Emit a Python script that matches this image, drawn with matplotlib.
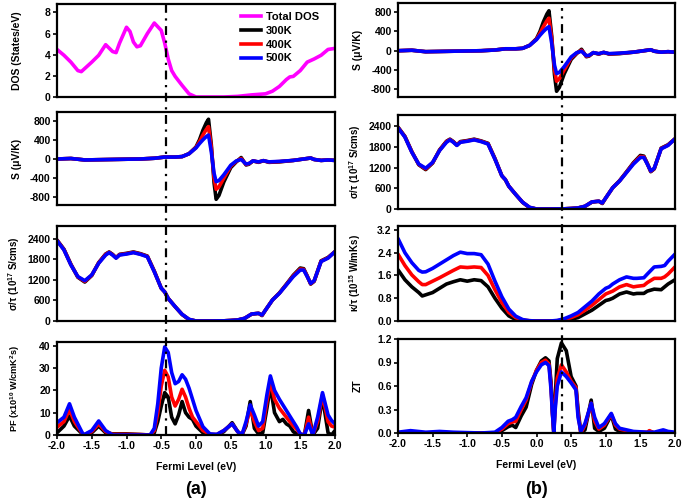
import matplotlib
matplotlib.use('Agg')
import matplotlib.pyplot as plt
from matplotlib.lines import Line2D

plt.rcParams['font.family'] = ['Liberation Sans', 'DejaVu Sans']
plt.rcParams['font.weight'] = 'bold'
plt.rcParams['mathtext.fontset'] = 'custom'
plt.rcParams['mathtext.rm'] = 'Liberation Sans:bold'
plt.rcParams['mathtext.bf'] = 'Liberation Sans:bold'
plt.rcParams['mathtext.it'] = 'Liberation Sans:bold:italic'
plt.rcParams['mathtext.default'] = 'bf'

# ---- data ----
x_dos = [-2, -1.9, -1.8, -1.7, -1.65, -1.6, -1.5, -1.4, -1.3, -1.2, -1.15, -1.1, -1.0, -0.95, -0.9,
         -0.85, -0.8, -0.7, -0.6, -0.5, -0.45, -0.4, -0.35, -0.3, -0.2, -0.1, 0.0, 0.2, 0.4, 0.6,
         0.8, 1.0, 1.1, 1.2, 1.3, 1.35, 1.4, 1.5, 1.6, 1.7, 1.8, 1.9, 2.0]
dos = [4.5, 3.95, 3.3, 2.5, 2.4, 2.7, 3.3, 3.95, 4.95, 4.3, 4.2, 5.1, 6.6, 6.2, 5.2,
       4.75, 4.85, 6.0, 7.0, 6.3, 5.1, 3.6, 2.5, 1.95, 1.1, 0.3, 0.0, 0.0, 0.0, 0.06,
       0.2, 0.3, 0.55, 1.0, 1.65, 1.9, 1.95, 2.5, 3.3, 3.6, 3.95, 4.5, 4.6]

x_s = [-2, -1.8, -1.6, -1.4, -1.2, -1.0, -0.8, -0.6, -0.45, -0.3, -0.2, -0.1, 0.0, 0.05, 0.1, 0.15,
       0.18, 0.22, 0.26, 0.29, 0.33, 0.4, 0.5, 0.58, 0.65, 0.72, 0.76, 0.82, 0.9, 0.97, 1.05, 1.2,
       1.4, 1.6, 1.65, 1.7, 1.8, 1.9, 2.0]
s_300 = [0, 10, -20, -15, -10, -5, 0, 15, 40, 40, 50, 110, 250, 400, 600, 760,
         829, 300, -500, -841, -760, -480, -180, -60, 30, -125, -110, -40, -70, -35, -70, -60,
         -30, 10, 20, -10, -30, -20, -30]
s_400 = [0, 10, -20, -15, -10, -5, 0, 15, 40, 40, 50, 110, 240, 360, 500, 620,
         675, 250, -400, -633, -580, -400, -150, -50, 10, -115, -100, -40, -65, -35, -65, -55,
         -30, 10, 20, -10, -30, -20, -30]
s_500 = [0, 10, -20, -15, -10, -5, 0, 15, 40, 40, 50, 110, 230, 320, 400, 470,
         500, 150, -300, -473, -450, -330, -130, -40, -10, -105, -95, -40, -60, -35, -60, -50,
         -30, 10, 20, -10, -30, -20, -30]

x_sig = [-2, -1.9, -1.8, -1.7, -1.6, -1.5, -1.4, -1.3, -1.25, -1.2, -1.15, -1.1, -1.0, -0.9, -0.8,
         -0.7, -0.6, -0.5, -0.45, -0.4, -0.3, -0.2, -0.1, 0.0, 0.2, 0.4, 0.5, 0.6, 0.7, 0.8, 0.9,
         0.95, 1.0, 1.1, 1.2, 1.3, 1.4, 1.5, 1.55, 1.6, 1.65, 1.7, 1.8, 1.9, 2.0]
sig_300 = [2370, 2100, 1660, 1280, 1140, 1330, 1710, 1960, 2020, 1950, 1850, 1950, 1980, 2020, 1970,
           1900, 1460, 960, 850, 660, 420, 190, 40, 0, 0, 5, 15, 30, 75, 200, 225,
           160, 320, 615, 820, 1075, 1340, 1550, 1530, 1320, 1080, 1160, 1760, 1860, 2030]
sig_400 = [2360, 2090, 1650, 1290, 1160, 1340, 1700, 1950, 2010, 1940, 1850, 1940, 1970, 2010, 1960,
           1890, 1450, 960, 850, 660, 420, 195, 45, 0, 0, 5, 15, 30, 80, 205, 225,
           170, 320, 615, 815, 1065, 1320, 1520, 1510, 1310, 1090, 1170, 1750, 1850, 2030]
sig_500 = [2350, 2080, 1640, 1300, 1180, 1350, 1690, 1930, 2000, 1930, 1840, 1930, 1960, 2000, 1950,
           1880, 1440, 960, 850, 660, 420, 195, 50, 0, 0, 5, 15, 30, 80, 205, 225,
           175, 320, 615, 810, 1055, 1300, 1490, 1490, 1300, 1100, 1180, 1740, 1840, 2030]

x_pf = [-2, -1.9, -1.82, -1.75, -1.62, -1.5, -1.4, -1.3, -1.2, -1.0, -0.8, -0.66, -0.6, -0.55, -0.5,
        -0.45, -0.4, -0.35, -0.3, -0.25, -0.2, -0.15, -0.1, -0.05, 0.0, 0.1, 0.2, 0.3, 0.4, 0.52,
        0.6, 0.66, 0.72, 0.78, 0.84, 0.9, 0.96, 1.02, 1.07, 1.13, 1.2, 1.25, 1.3, 1.35, 1.4,
        1.45, 1.5, 1.56, 1.62, 1.68, 1.75, 1.82, 1.9, 1.95, 2.0]
pf_300 = [1, 4, 8.5, 4, 0, 1, 4, 1, 0.5, 0.5, 0.2, 0, 1, 6, 13,
          19, 17, 8, 5, 9, 15, 10, 8, 7, 4, 1, 0, 0, 1.5, 5.5,
          1.5, 0, 4, 15, 3, 0.5, 1, 12, 22, 10, 6, 7, 5, 4, 1.5,
          0.5, 0, 0, 11, 0, 3, 17, 1, 0, 2]
pf_400 = [3.5, 6, 11.5, 6, 0, 1.5, 5, 1.5, 0.3, 0.3, 0.2, 0, 2, 10, 22,
          29, 26, 17, 13, 16, 20.5, 17, 12, 8, 6, 2, 0.3, 0.2, 2, 5,
          1.5, 0, 5, 11.5, 6, 2, 3, 15, 24, 16, 12, 10, 8, 6, 4,
          2.5, 0.5, 0, 8, 0, 6, 18, 6, 4, 3.5]
pf_500 = [5.5, 8, 14, 8, 0, 2, 6.3, 2, 0, 0, 0, 0, 3, 14, 30,
          39.5, 37, 28, 23, 24, 27, 25, 21, 16, 11, 3.7, 0.5, 0.3, 2, 5,
          1.5, 0, 6, 13.5, 9, 4, 6, 18, 26.5, 20, 16, 13.5, 11, 8.5, 6,
          3.5, 0.5, 0, 5, 0, 8, 19, 9, 6.5, 5]

x_kap = [-2, -1.9, -1.8, -1.7, -1.65, -1.6, -1.5, -1.4, -1.3, -1.2, -1.1, -1.0, -0.9, -0.8, -0.7,
         -0.6, -0.5, -0.4, -0.3, -0.2, -0.1, 0.0, 0.1, 0.2, 0.3, 0.4, 0.5, 0.6, 0.7, 0.8, 0.9,
         1.0, 1.05, 1.1, 1.2, 1.3, 1.4, 1.45, 1.55, 1.6, 1.7, 1.8, 1.85, 1.9, 2.0]
kap_300 = [1.8, 1.45, 1.2, 1.0, 0.88, 0.92, 1.0, 1.15, 1.3, 1.38, 1.45, 1.4, 1.45, 1.42, 1.2,
           0.8, 0.45, 0.18, 0.05, 0.01, 0, 0, 0, 0, 0, 0.02, 0.06, 0.12, 0.25, 0.38, 0.55,
           0.72, 0.75, 0.8, 0.95, 1.02, 0.95, 0.97, 0.97, 1.05, 1.12, 1.1, 1.2, 1.3, 1.45]
kap_400 = [2.35, 1.95, 1.62, 1.38, 1.28, 1.28, 1.4, 1.52, 1.65, 1.78, 1.9, 1.88, 1.9, 1.88, 1.6,
           1.1, 0.65, 0.3, 0.12, 0.03, 0.01, 0, 0, 0, 0.01, 0.05, 0.12, 0.22, 0.38, 0.55, 0.75,
           0.95, 1.0, 1.05, 1.2, 1.28, 1.2, 1.22, 1.25, 1.35, 1.5, 1.5, 1.55, 1.65, 1.9]
kap_500 = [2.9, 2.4, 2.05, 1.78, 1.72, 1.73, 1.85, 2.0, 2.15, 2.3, 2.42, 2.37, 2.37, 2.33, 2.0,
           1.4, 0.85, 0.42, 0.17, 0.05, 0.01, 0, 0, 0, 0.02, 0.08, 0.18, 0.3, 0.5, 0.7, 0.95,
           1.15, 1.2, 1.3, 1.45, 1.55, 1.5, 1.5, 1.52, 1.65, 1.9, 1.92, 1.95, 2.1, 2.35]

x_zt = [-2, -1.82, -1.6, -1.4, -1.2, -0.8, -0.6, -0.5, -0.41, -0.35, -0.3, -0.22, -0.15, -0.07, 0.0,
        0.07, 0.13, 0.18, 0.21, 0.23, 0.25, 0.27, 0.3, 0.36, 0.43, 0.5, 0.57, 0.6, 0.64, 0.7,
        0.79, 0.84, 0.9, 0.98, 1.08, 1.14, 1.2, 1.4, 1.6, 1.63, 1.7, 1.83, 1.9, 2.0]
zt_300 = [0.0, 0.0, 0.0, 0.0, 0.0, 0.0, 0.0, 0.03, 0.08, 0.1, 0.07, 0.22, 0.33, 0.62, 0.8,
          0.92, 0.96, 0.92, 0.65, 0.28, 0.0, 0.45, 0.95, 1.15, 1.05, 0.72, 0.6, 0.3, 0.0, 0.04,
          0.42, 0.06, 0.02, 0.06, 0.23, 0.05, 0.02, 0.0, 0.0, 0.02, 0.0, 0.0, 0.0, 0.0]
zt_400 = [0.0, 0.01, 0.0, 0.01, 0.0, 0.0, 0.0, 0.05, 0.12, 0.14, 0.15, 0.3, 0.42, 0.65, 0.8,
          0.9, 0.93, 0.88, 0.6, 0.25, 0.0, 0.35, 0.7, 0.87, 0.78, 0.66, 0.58, 0.25, 0.0, 0.1,
          0.38, 0.15, 0.05, 0.1, 0.24, 0.1, 0.05, 0.01, 0.01, 0.03, 0.0, 0.02, 0.01, 0.0]
zt_500 = [0.01, 0.03, 0.01, 0.02, 0.01, 0.0, 0.01, 0.07, 0.15, 0.17, 0.2, 0.34, 0.45, 0.66, 0.78,
          0.87, 0.9, 0.86, 0.55, 0.25, 0.0, 0.3, 0.6, 0.78, 0.72, 0.64, 0.55, 0.2, 0.02, 0.12,
          0.38, 0.2, 0.07, 0.12, 0.25, 0.12, 0.06, 0.02, 0.01, 0.01, 0.01, 0.04, 0.02, 0.01]

temps = ['300K', '400K', '500K']
colors = ['black', '#ff0000', '#0000ff']
x_ticks = [-2.0, -1.5, -1.0, -0.5, 0.0, 0.5, 1.0, 1.5, 2.0]
fermi_a = -0.43
fermi_b = 0.37

W, H = 685, 499
fig = plt.figure(figsize=(W / 100, H / 100), dpi=100)


def make_ax(left, right, top, bottom):
    ax = fig.add_axes([left / W, 1 - bottom / H, (right - left) / W, (bottom - top) / H])
    for sp in ax.spines.values():
        sp.set_linewidth(1.6)
    ax.set_xlim(-2, 2)
    ax.tick_params(axis='both', direction='out', length=3, width=1.2, labelsize=7.5, pad=1.5)
    return ax


def finish(ax, ylim, yticks, ylabel, labx, bottom_row=False, fmt='{:g}', labsize=7.5):
    ax.set_ylim(*ylim)
    ax.set_yticks(yticks)
    ax.set_yticklabels([fmt.format(v) for v in yticks])
    ax.set_ylabel(ylabel, fontsize=labsize, fontweight='bold')
    ax.yaxis.set_label_coords(labx, 0.5)
    ax.set_xticks(x_ticks)
    if bottom_row:
        ax.set_xticklabels(['{:.1f}'.format(v) for v in x_ticks])
        ax.set_xlabel('Fermi Level (eV)', fontsize=7.5, fontweight='bold', labelpad=8)
    else:
        ax.tick_params(axis='x', bottom=False, labelbottom=False)


def three(ax, x, ys, lw=2.6):
    for y, c in zip(ys, colors):
        ax.plot(x, y, color=c, lw=lw, solid_joinstyle='round', solid_capstyle='round')


L0, L1 = 57, 335
R0, R1 = 398, 675
LAB_A = -0.125
LAB_B = -0.128

# ---- column (a) ----
ax1 = make_ax(L0, L1, 4, 97)
ax1.plot(x_dos, dos, color='#ff00ff', lw=2.6, solid_joinstyle='round')
finish(ax1, (0, 8.8), [0, 2, 4, 6, 8], 'DOS (States/eV)', LAB_A)
handles = [Line2D([], [], color='#ff00ff', lw=2.6)] + [Line2D([], [], color=c, lw=2.6) for c in colors]
ax1.legend(handles, ['Total DOS'] + temps, loc='upper right', frameon=False,
           handlelength=1.8, handletextpad=0.4, labelspacing=0.35, borderaxespad=0.3,
           bbox_to_anchor=(0.97, 1.0), prop={'weight': 'bold', 'size': 8})

ax2 = make_ax(L0, L1, 112, 205)
three(ax2, x_s, [s_300, s_400, s_500])
finish(ax2, (-960, 980), [-800, -400, 0, 400, 800], 'S (μV/K)', LAB_A)

ax3 = make_ax(L0, L1, 226, 321)
three(ax3, x_sig, [sig_300, sig_400, sig_500])
finish(ax3, (0, 2780), [0, 600, 1200, 1800, 2400], r'σ/τ (10$^{17}$ S/cms)', LAB_A, labsize=7)

ax4 = make_ax(L0, L1, 342, 435)
three(ax4, x_pf, [pf_300, pf_400, pf_500])
finish(ax4, (0, 41.7), [0, 10, 20, 30, 40], r'PF (x10$^{10}$ W/cmK$^2$s)', LAB_A,
       bottom_row=True, labsize=6.6)

# ---- column (b) ----
bx1 = make_ax(R0, R1, 3, 97)
three(bx1, x_s, [s_300, s_400, s_500])
finish(bx1, (-960, 990), [-800, -400, 0, 400, 800], 'S (μV/K)', LAB_B)

bx2 = make_ax(R0, R1, 115, 209)
three(bx2, x_sig, [sig_300, sig_400, sig_500])
finish(bx2, (0, 2720), [0, 600, 1200, 1800, 2400], r'σ/τ (10$^{17}$ S/cms)', LAB_B, labsize=7)

bx3 = make_ax(R0, R1, 226, 321)
three(bx3, x_kap, [kap_300, kap_400, kap_500])
finish(bx3, (0, 3.34), [0.0, 0.8, 1.6, 2.4, 3.2], r'κ/τ (10$^{15}$ W/mKs)', LAB_B,
       fmt='{:.1f}', labsize=7)

bx4 = make_ax(R0, R1, 339, 433)
three(bx4, x_zt, [zt_300, zt_400, zt_500])
finish(bx4, (0, 1.2), [0.0, 0.3, 0.6, 0.9, 1.2], 'ZT', LAB_B, bottom_row=True, fmt='{:.1f}')

# ---- Fermi level markers spanning each column ----
for ax_top, ax_bot, xf, y_top in [(ax1, ax4, fermi_a, 4), (bx1, bx4, fermi_b, 8)]:
    xfig = fig.transFigure.inverted().transform(ax_top.transData.transform((xf, 0)))[0]
    y_bot = ax_bot.get_position().y0
    fig.add_artist(Line2D([xfig, xfig], [y_bot, 1 - y_top / H], transform=fig.transFigure,
                          color='black', lw=1.6, dashes=(4, 2.5, 1, 2.5), zorder=5))

fig.text((L0 + L1) / 2 / W, 1 - 490 / H, '(a)', ha='center', va='center', fontsize=13, fontweight='bold')
fig.text((R0 + R1) / 2 / W, 1 - 490 / H, '(b)', ha='center', va='center', fontsize=13, fontweight='bold')

fig.savefig('out.png', dpi=100)
